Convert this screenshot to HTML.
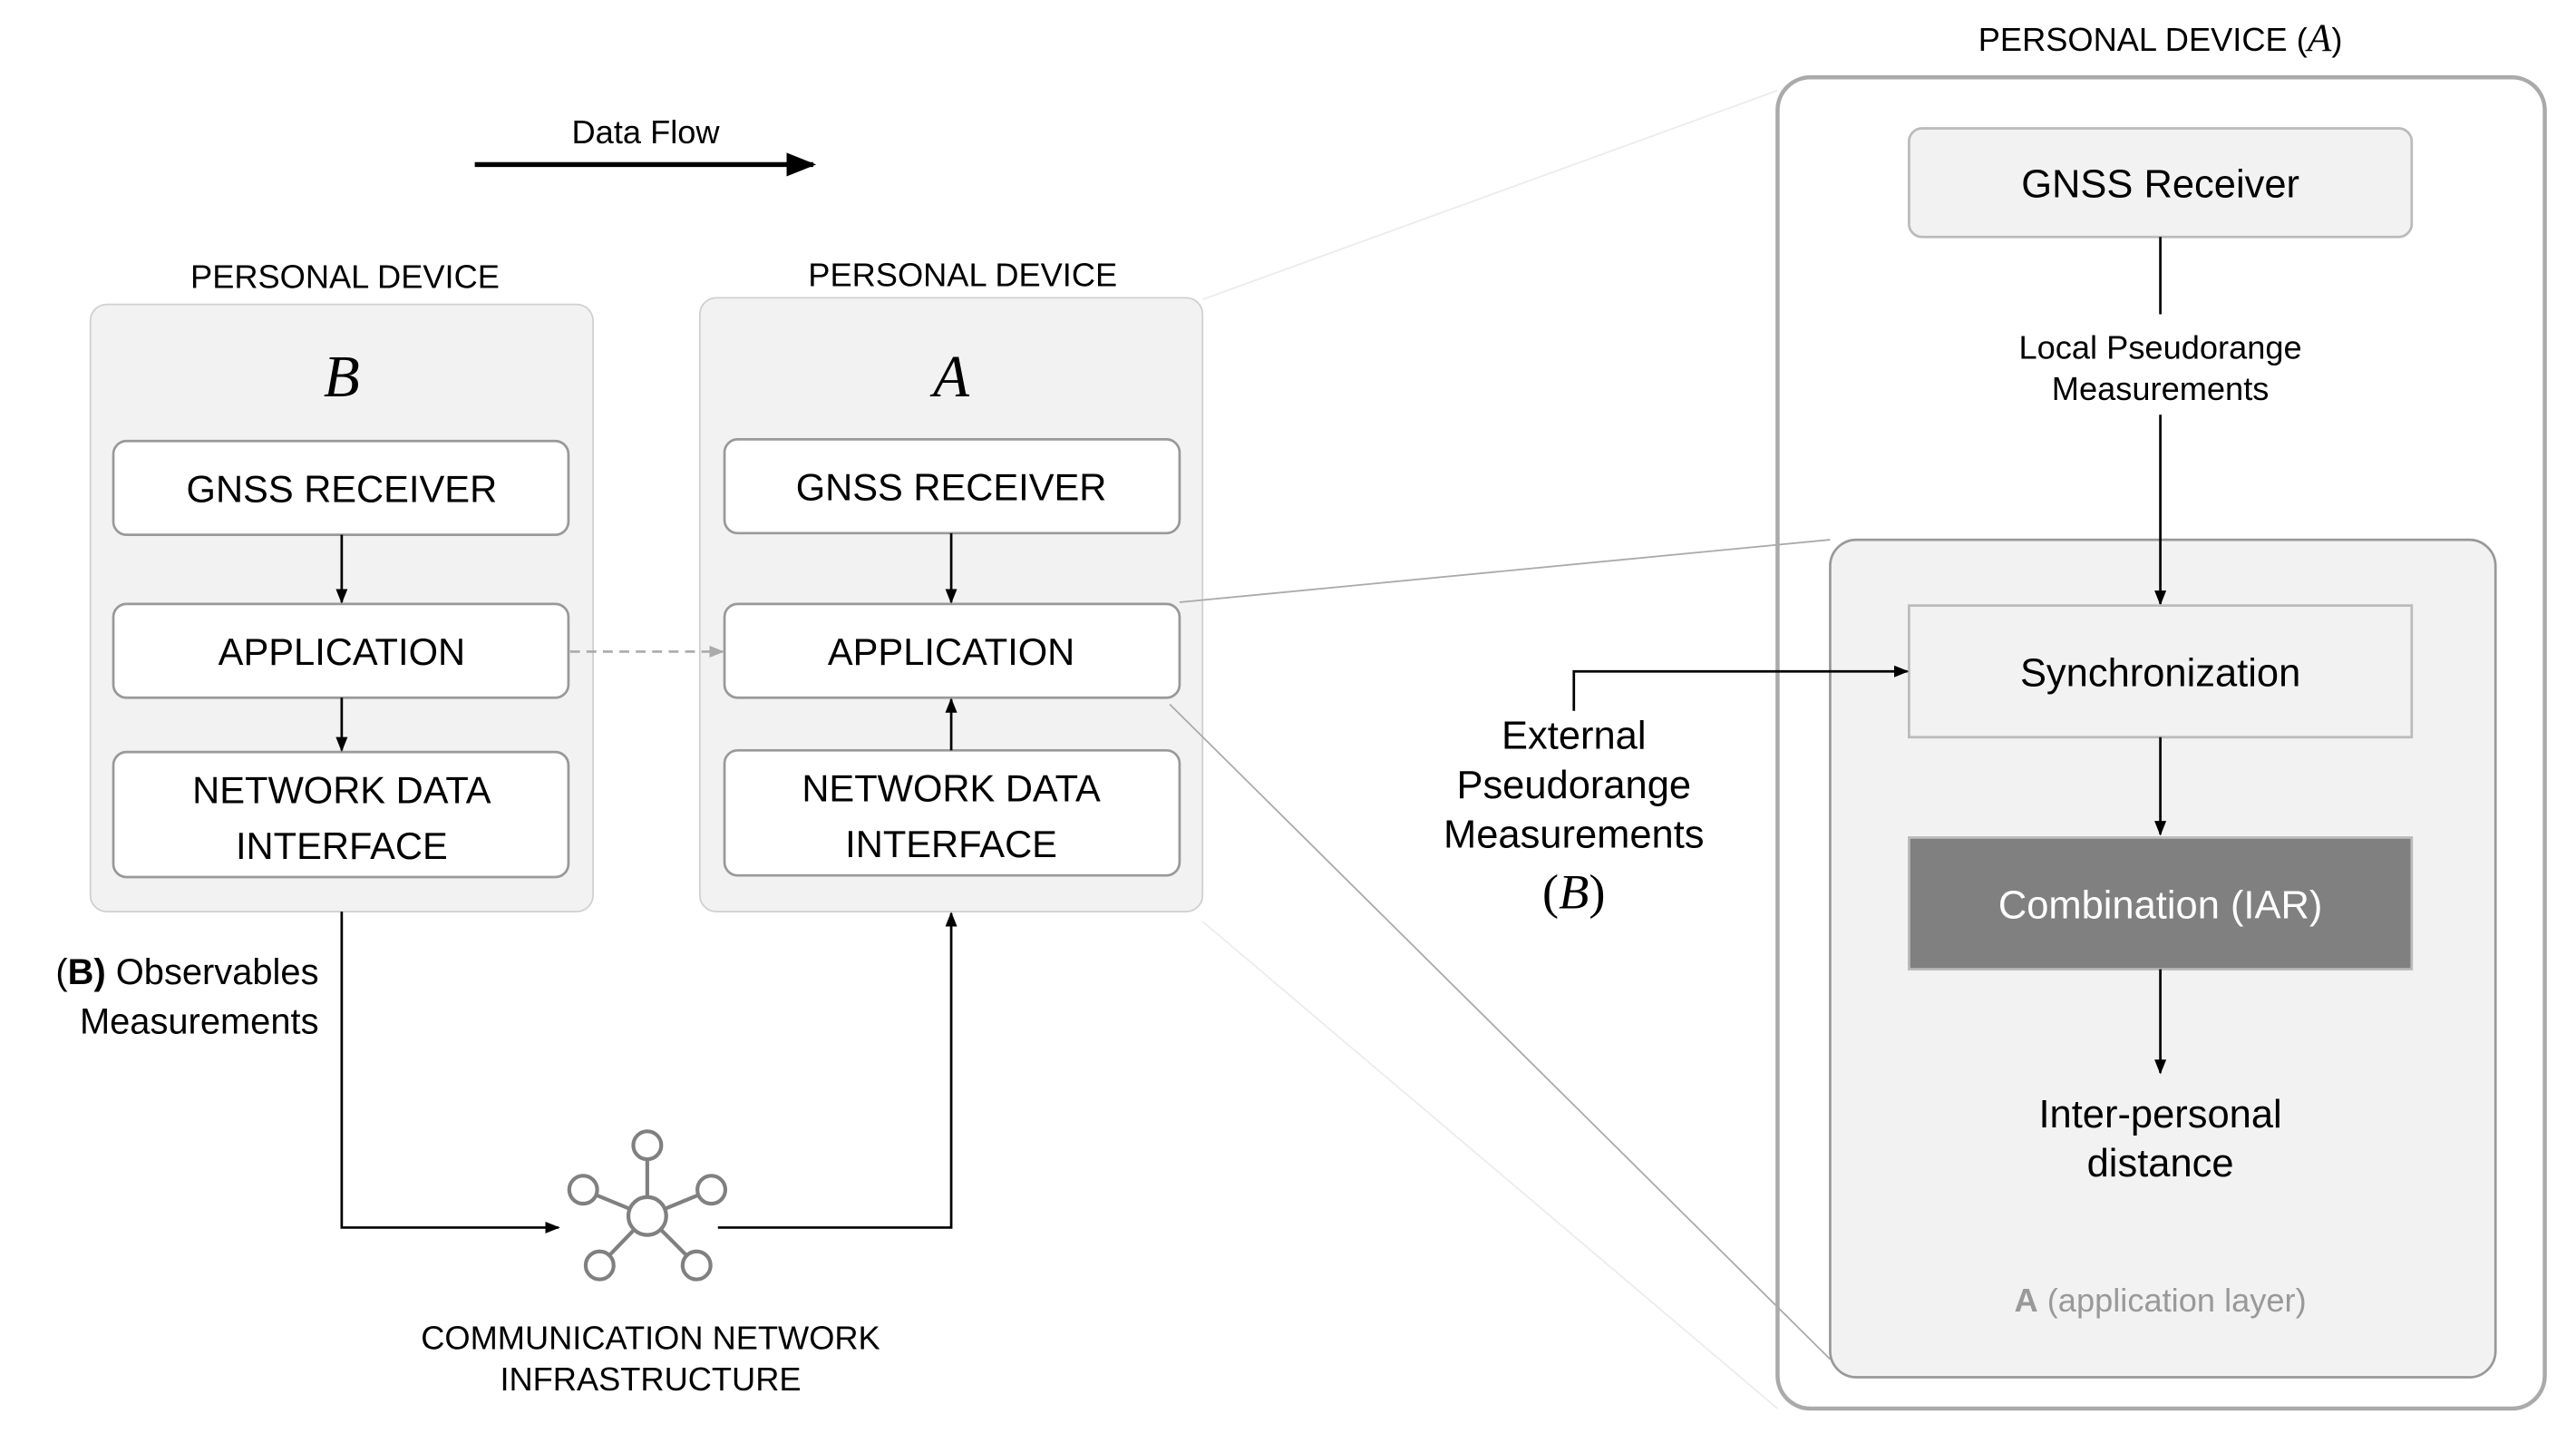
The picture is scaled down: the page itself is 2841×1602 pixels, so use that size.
<!DOCTYPE html>
<html><head><meta charset="utf-8"><style>html,body{margin:0;padding:0;background:#fff}svg{display:block}</style></head>
<body>
<svg xmlns="http://www.w3.org/2000/svg" width="2841" height="1602" viewBox="0 0 1568 883" preserveAspectRatio="none" font-family="Liberation Sans, sans-serif">
<defs>
<marker id="ah" viewBox="0 0 10 10" refX="9" refY="5" markerWidth="6" markerHeight="6" orient="auto"><path d="M0,1 L10,5 L0,9 z" fill="#000"/></marker>
<marker id="ahg" viewBox="0 0 10 10" refX="9" refY="5" markerWidth="6" markerHeight="6" orient="auto"><path d="M0,1 L10,5 L0,9 z" fill="#aaa"/></marker>
</defs>
<line x1="732" y1="182" x2="1082" y2="55" stroke="#ececec" stroke-width="1"/>
<line x1="732" y1="560" x2="1082" y2="856" stroke="#ececec" stroke-width="1"/>

<text x="393" y="87" font-size="20" text-anchor="middle">Data Flow</text>
<line x1="289" y1="100" x2="495" y2="100" stroke="#000" stroke-width="3" marker-end="url(#ah)"/>

<text x="210" y="175" font-size="20" text-anchor="middle">PERSONAL DEVICE</text>
<rect x="55" y="185" width="306" height="369" rx="10" fill="#f2f2f2" stroke="#d0d0d0"/>
<text x="208" y="241" font-size="36" font-style="italic" font-family="Liberation Serif, serif" text-anchor="middle">B</text>
<g fill="#fff" stroke="#999" stroke-width="1.5">
<rect x="69" y="268" width="277" height="57" rx="8"/>
<rect x="69" y="367" width="277" height="57" rx="8"/>
<rect x="69" y="457" width="277" height="76" rx="8"/>
</g>
<g font-size="23" text-anchor="middle">
<text x="208" y="305">GNSS RECEIVER</text>
<text x="208" y="404">APPLICATION</text>
<text x="208" y="488">NETWORK DATA</text>
<text x="208" y="522">INTERFACE</text>
</g>
<line x1="208" y1="325" x2="208" y2="366" stroke="#000" stroke-width="1.5" marker-end="url(#ah)"/>
<line x1="208" y1="424" x2="208" y2="456" stroke="#000" stroke-width="1.5" marker-end="url(#ah)"/>

<text x="586" y="174" font-size="20" text-anchor="middle">PERSONAL DEVICE</text>
<rect x="426" y="181" width="306" height="373" rx="10" fill="#f2f2f2" stroke="#d0d0d0"/>
<text x="579" y="241" font-size="36" font-style="italic" font-family="Liberation Serif, serif" text-anchor="middle">A</text>
<g fill="#fff" stroke="#999" stroke-width="1.5">
<rect x="441" y="267" width="277" height="57" rx="8"/>
<rect x="441" y="367" width="277" height="57" rx="8"/>
<rect x="441" y="456" width="277" height="76" rx="8"/>
</g>
<g font-size="23" text-anchor="middle">
<text x="579" y="304">GNSS RECEIVER</text>
<text x="579" y="404">APPLICATION</text>
<text x="579" y="487">NETWORK DATA</text>
<text x="579" y="521">INTERFACE</text>
</g>
<line x1="579" y1="324" x2="579" y2="366" stroke="#000" stroke-width="1.5" marker-end="url(#ah)"/>
<line x1="579" y1="456" x2="579" y2="425" stroke="#000" stroke-width="1.5" marker-end="url(#ah)"/>
<line x1="347" y1="396" x2="440" y2="396" stroke="#aaa" stroke-width="1.5" stroke-dasharray="6,4" marker-end="url(#ahg)"/>

<polyline points="208,554 208,746 340,746" fill="none" stroke="#000" stroke-width="1.5" marker-end="url(#ah)"/>
<polyline points="437,746 579,746 579,555" fill="none" stroke="#000" stroke-width="1.5" marker-end="url(#ah)"/>
<text x="194" y="598" font-size="22" text-anchor="end">(<tspan font-weight="bold">B)</tspan> Observables</text>
<text x="194" y="628" font-size="22" text-anchor="end">Measurements</text>
<g stroke="#808080" stroke-width="2.3" fill="#fff">
<line x1="394" y1="739" x2="394" y2="705"/>
<line x1="394" y1="739" x2="355" y2="723"/>
<line x1="394" y1="739" x2="433" y2="723"/>
<line x1="394" y1="739" x2="365" y2="769"/>
<line x1="394" y1="739" x2="424" y2="769"/>
<circle cx="394" cy="739" r="11.5"/>
<circle cx="394" cy="696" r="8.5"/>
<circle cx="355" cy="723" r="8.5"/>
<circle cx="433" cy="723" r="8.5"/>
<circle cx="365" cy="769" r="8.5"/>
<circle cx="424" cy="769" r="8.5"/>
</g>
<text x="396" y="820" font-size="20" text-anchor="middle">COMMUNICATION NETWORK</text>
<text x="396" y="845" font-size="20" text-anchor="middle">INFRASTRUCTURE</text>

<text x="1315" y="31" font-size="20" text-anchor="middle">PERSONAL DEVICE (<tspan font-style="italic" font-family="Liberation Serif, serif" font-size="24">A</tspan>)</text>
<rect x="1082" y="47" width="467" height="809" rx="20" fill="#fff" stroke="#aaa" stroke-width="2.5"/>
<line x1="718" y1="366" x2="1114" y2="328" stroke="#aaa" stroke-width="1"/>
<line x1="712" y1="428" x2="1114" y2="826" stroke="#aaa" stroke-width="1"/>
<rect x="1162" y="78" width="306" height="66" rx="8" fill="#f2f2f2" stroke="#bbb" stroke-width="1.5"/>
<text x="1315" y="120" font-size="24" text-anchor="middle">GNSS Receiver</text>
<line x1="1315" y1="144" x2="1315" y2="191" stroke="#000" stroke-width="1.5"/>
<text x="1315" y="218" font-size="20" text-anchor="middle">Local Pseudorange</text>
<text x="1315" y="243" font-size="20" text-anchor="middle">Measurements</text>
<rect x="1114" y="328" width="405" height="509" rx="16" fill="#f2f2f2" stroke="#999" stroke-width="1.5"/>
<line x1="1315" y1="252" x2="1315" y2="367" stroke="#000" stroke-width="1.5" marker-end="url(#ah)"/>
<rect x="1162" y="368" width="306" height="80" fill="#f2f2f2" stroke="#bbb" stroke-width="1.5"/>
<text x="1315" y="417" font-size="24" text-anchor="middle">Synchronization</text>
<line x1="1315" y1="448" x2="1315" y2="507" stroke="#000" stroke-width="1.5" marker-end="url(#ah)"/>
<rect x="1162" y="509" width="306" height="80" fill="#808080" stroke="#bbb" stroke-width="1.5"/>
<text x="1315" y="558" font-size="24" text-anchor="middle" fill="#fff">Combination (IAR)</text>
<line x1="1315" y1="589" x2="1315" y2="652" stroke="#000" stroke-width="1.5" marker-end="url(#ah)"/>
<text x="1315" y="685" font-size="24" text-anchor="middle">Inter-personal</text>
<text x="1315" y="715" font-size="24" text-anchor="middle">distance</text>
<text x="1315" y="797" font-size="20" text-anchor="middle" fill="#999"><tspan font-weight="bold">A</tspan> (application layer)</text>
<polyline points="958,432 958,408 1161,408" fill="none" stroke="#000" stroke-width="1.5" marker-end="url(#ah)"/>
<g font-size="24" text-anchor="middle">
<text x="958" y="455">External</text>
<text x="958" y="485">Pseudorange</text>
<text x="958" y="515">Measurements</text>
<text x="958" y="552" font-size="30" font-family="Liberation Serif, serif">(<tspan font-style="italic">B</tspan>)</text>
</g>
</svg>
</body></html>
